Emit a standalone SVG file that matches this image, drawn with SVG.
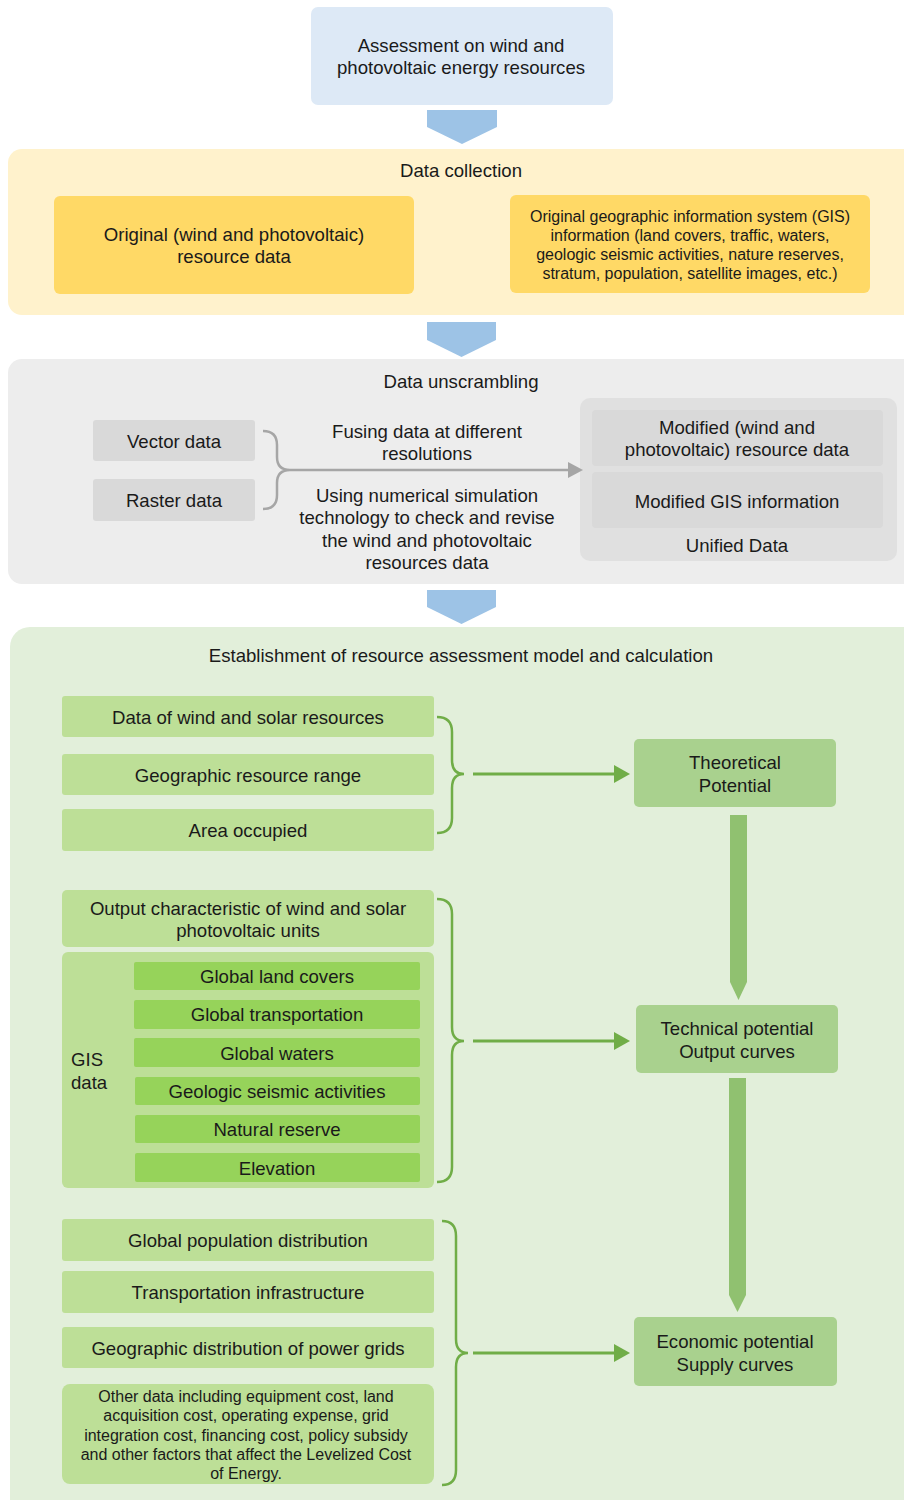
<svg xmlns="http://www.w3.org/2000/svg" width="904" height="1500" viewBox="0 0 904 1500">
<style>
text{font-family:"Liberation Sans",Arial,sans-serif;font-size:18.6px;fill:#1a1a1a;text-anchor:middle}
.s{font-size:16px}
.l{text-anchor:start}
.blue{fill:#9dc3e6}
.org{fill:#ffd966}
.gry{fill:#d9d9d9}
.lg{fill:#bddf97}
.bg{fill:#96d35a}
.mg{fill:#a9d18e}
.va{fill:#90c170}
.gb{fill:none;stroke:#70ad47;stroke-width:2.5}
.gl{stroke:#70ad47;stroke-width:3}
</style>
<rect width="904" height="1500" fill="#ffffff"/>

<g id="panel-collection"><rect x="8" y="149" width="920" height="166" rx="14" fill="#fff2cc"/><text x="461" y="177">Data collection</text></g>
<g id="panel-unscrambling"><rect x="8" y="359" width="920" height="225" rx="14" fill="#ededed"/><text x="461" y="388">Data unscrambling</text></g>
<g id="panel-model"><rect x="10" y="627" width="920" height="900" rx="20" fill="#e2efda"/><text x="461" y="662">Establishment of resource assessment model and calculation</text></g>

<g id="n-assess"><rect x="311" y="7" width="302" height="98" rx="7" fill="#dde9f6"/><text x="461" y="52">Assessment on wind and</text><text x="461" y="74">photovoltaic energy resources</text></g>

<g id="n-orig-res"><rect class="org" x="54" y="196" width="360" height="98" rx="6"/><text x="234" y="241">Original (wind and photovoltaic)</text><text x="234" y="263">resource data</text></g>
<g id="n-orig-gis"><rect class="org" x="510" y="195" width="360" height="98" rx="6"/><text class="s" x="690" y="222">Original geographic information system (GIS)</text><text class="s" x="690" y="241">information (land covers, traffic, waters,</text><text class="s" x="690" y="260">geologic seismic activities, nature reserves,</text><text class="s" x="690" y="279">stratum, population, satellite images, etc.)</text></g>

<g id="n-vector"><rect class="gry" x="93" y="420" width="162" height="41" rx="3"/><text x="174" y="448">Vector data</text></g>
<g id="n-raster"><rect class="gry" x="93" y="479" width="162" height="42" rx="3"/><text x="174" y="507">Raster data</text></g>
<g id="n-unified"><rect x="580" y="398" width="317" height="163" rx="10" fill="#e0e0e0"/><rect class="gry" x="592" y="410" width="291" height="56" rx="4"/><text x="737" y="434">Modified (wind and</text><text x="737" y="456">photovoltaic) resource data</text><rect class="gry" x="592" y="472" width="291" height="56" rx="4"/><text x="737" y="508">Modified GIS information</text><text x="737" y="552">Unified Data</text></g>
<g id="lbl-fusing"><text x="427" y="438">Fusing data at different</text><text x="427" y="460">resolutions</text><text x="427" y="502">Using numerical simulation</text><text x="427" y="524">technology to check and revise</text><text x="427" y="547">the wind and photovoltaic</text><text x="427" y="569">resources data</text></g>

<g id="n-wind-data"><rect class="lg" x="62" y="696" width="372" height="41" rx="3"/><text x="248" y="724">Data of wind and solar resources</text></g>
<g id="n-geo-range"><rect class="lg" x="62" y="754" width="372" height="41" rx="3"/><text x="248" y="782">Geographic resource range</text></g>
<g id="n-area"><rect class="lg" x="62" y="809" width="372" height="42" rx="3"/><text x="248" y="837">Area occupied</text></g>

<g id="n-output-char"><rect class="lg" x="62" y="890" width="372" height="57" rx="5"/><text x="248" y="915">Output characteristic of wind and solar</text><text x="248" y="937">photovoltaic units</text></g>
<g id="n-gis"><rect class="lg" x="62" y="952" width="372" height="236" rx="6"/><text class="l" x="71" y="1066">GIS</text><text class="l" x="71" y="1089">data</text>
<rect class="bg" x="134" y="962" width="286" height="28" rx="2"/><text x="277" y="983">Global land covers</text>
<rect class="bg" x="134" y="1000" width="286" height="29" rx="2"/><text x="277" y="1021">Global transportation</text>
<rect class="bg" x="134" y="1038" width="286" height="29" rx="2"/><text x="277" y="1060">Global waters</text>
<rect class="bg" x="135" y="1077" width="285" height="28" rx="2"/><text x="277" y="1098">Geologic seismic activities</text>
<rect class="bg" x="135" y="1115" width="285" height="28" rx="2"/><text x="277" y="1136">Natural reserve</text>
<rect class="bg" x="135" y="1153" width="285" height="29" rx="2"/><text x="277" y="1175">Elevation</text></g>

<g id="n-population"><rect class="lg" x="62" y="1219" width="372" height="42" rx="3"/><text x="248" y="1247">Global population distribution</text></g>
<g id="n-transport"><rect class="lg" x="62" y="1271" width="372" height="42" rx="3"/><text x="248" y="1299">Transportation infrastructure</text></g>
<g id="n-grids"><rect class="lg" x="62" y="1327" width="372" height="41" rx="3"/><text x="248" y="1355">Geographic distribution of power grids</text></g>
<g id="n-other"><rect class="lg" x="62" y="1384" width="372" height="100" rx="8"/><text class="s" x="246" y="1402">Other data including equipment cost, land</text><text class="s" x="246" y="1421">acquisition cost, operating expense, grid</text><text class="s" x="246" y="1441">integration cost, financing cost, policy subsidy</text><text class="s" x="246" y="1460">and other factors that affect the Levelized Cost</text><text class="s" x="246" y="1479">of Energy.</text></g>

<g id="n-theoretical"><rect class="mg" x="634" y="739" width="202" height="68" rx="5"/><text x="735" y="769">Theoretical</text><text x="735" y="792">Potential</text></g>
<g id="n-technical"><rect class="mg" x="636" y="1005" width="202" height="68" rx="5"/><text x="737" y="1035">Technical potential</text><text x="737" y="1058">Output curves</text></g>
<g id="n-economic"><rect class="mg" x="634" y="1317" width="203" height="69" rx="5"/><text x="735" y="1348">Economic potential</text><text x="735" y="1371">Supply curves</text></g>

<g id="connectors">
<polygon class="blue" points="427,110 497,110 497,127 462,144 427,127"/>
<polygon class="blue" points="427,322 496,322 496,340 461.5,357 427,340"/>
<polygon class="blue" points="427,590 496,590 496,607 461.5,624 427,607"/>
<path d="M263 431 Q277 431 277 445 L277 457 Q277 470 290 470 Q277 470 277 483 L277 495 Q277 509 263 509" fill="none" stroke="#a6a6a6" stroke-width="2.5"/>
<line x1="290" y1="470" x2="570" y2="470" stroke="#a6a6a6" stroke-width="2.5"/>
<polygon points="568,462 583,470 568,478" fill="#a6a6a6"/>
<path class="gb" d="M437 717 Q452 717 452 732 L452 760 Q452 774 464 774 Q452 774 452 788 L452 818 Q452 833 437 833"/>
<line class="gl" x1="473" y1="774" x2="616" y2="774"/>
<polygon points="614,765 630,774 614,783" fill="#70ad47"/>
<path class="gb" d="M437 899 Q452 899 452 914 L452 1027 Q452 1041 464 1041 Q452 1041 452 1055 L452 1167 Q452 1182 437 1182"/>
<line class="gl" x1="473" y1="1041" x2="616" y2="1041"/>
<polygon points="614,1032 630,1041 614,1050" fill="#70ad47"/>
<path class="gb" d="M442 1221 Q456 1221 456 1236 L456 1339 Q456 1353 468 1353 Q456 1353 456 1367 L456 1470 Q456 1485 442 1485"/>
<line class="gl" x1="473" y1="1353" x2="616" y2="1353"/>
<polygon points="614,1344 630,1353 614,1362" fill="#70ad47"/>
<polygon class="va" points="730,815 747,815 747,982 738.5,1000 730,982"/>
<polygon class="va" points="729,1078 746,1078 746,1295 737.5,1312 729,1295"/>
</g>
</svg>
